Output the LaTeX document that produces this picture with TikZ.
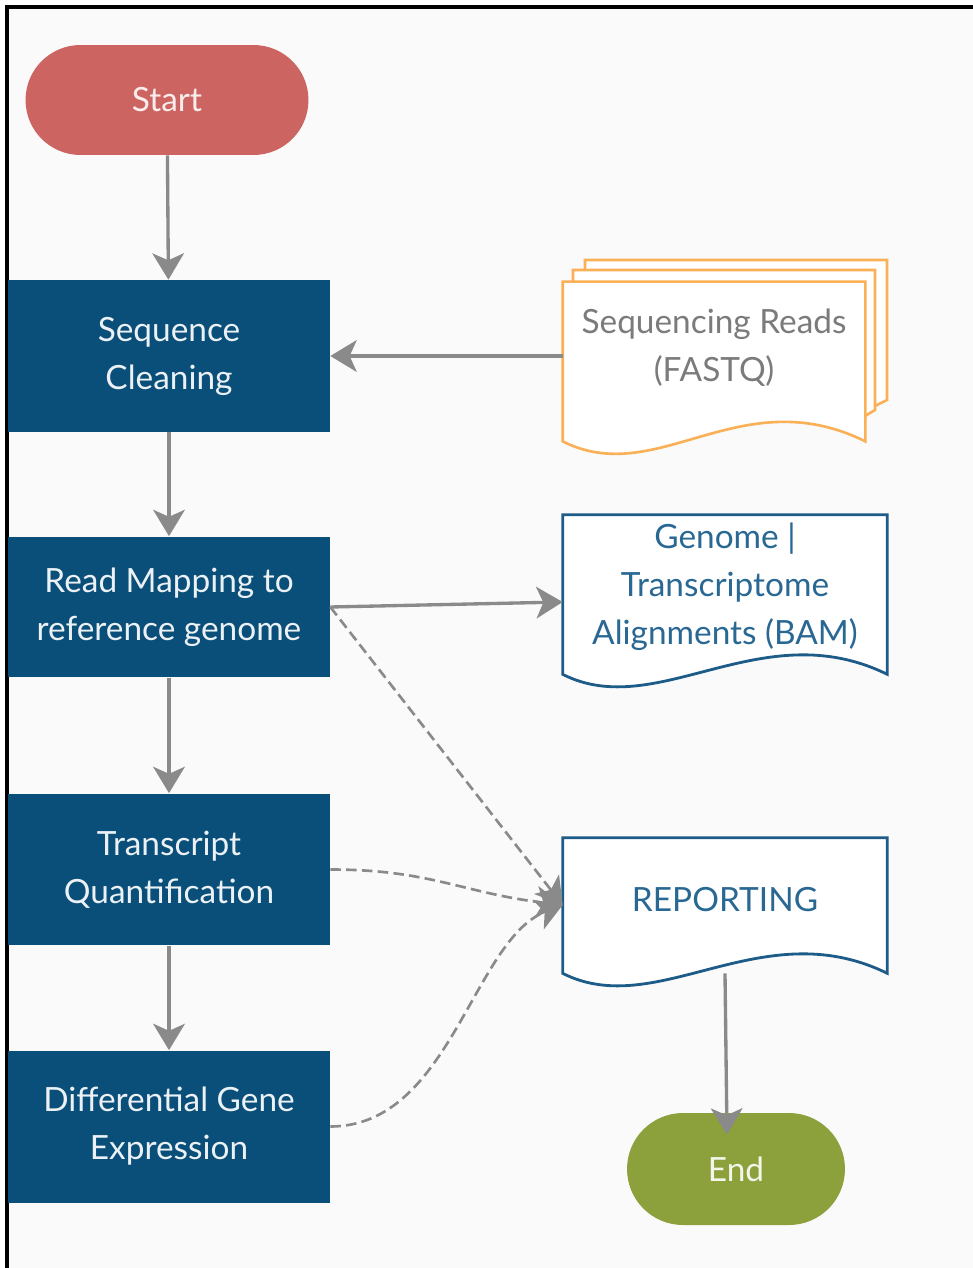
\documentclass[tikz,border=0pt]{standalone}
\usepackage{fontspec}
\setmainfont{Lato}
\usepackage{tikz}
\usetikzlibrary{positioning,arrows.meta,backgrounds}
\usepackage{xcolor}

\definecolor{startred}{HTML}{CC6561}
\definecolor{endgreen}{HTML}{8CA03C}
\definecolor{procblue}{HTML}{0A4F79}
\definecolor{docblue}{HTML}{1D5B88}
\definecolor{doctext}{HTML}{2A6894}
\definecolor{docorange}{HTML}{F9B056}
\definecolor{readsgray}{HTML}{7B7B7B}
\definecolor{arrowgray}{HTML}{8A8A8A}
\definecolor{canvas}{HTML}{FAFAFA}

% outline of a document shape: node corners, wavy bottom dropped by #2
\newcommand{\docoutline}[2]{(#1.north west) -- (#1.north east) -- ([yshift=-#2]#1.south east)
  .. controls +(-126,-62) and +(95,48) .. ([yshift=-#2]#1.south west) -- cycle}

\begin{document}
\begin{tikzpicture}[x=0.02cm, y=-0.02cm,
  every node/.style={font=\fontsize{19}{27.3}\selectfont},
  terminal/.style={rectangle, rounded corners=1.1cm, minimum width=5.66cm, minimum height=2.2cm},
  process/.style={rectangle, fill=procblue, text=white!92!procblue, align=center,
    minimum width=6.44cm, minimum height=3.04cm},
  docnode/.style={rectangle, align=center, text=doctext, minimum width=6.48cm},
  flow/.style={draw=arrowgray, line width=1.9pt, -{Stealth[length=15pt,width=18pt,inset=4pt]}},
  link/.style={flow, line width=1.5pt, dash pattern=on 6pt off 3pt}]
\useasboundingbox (0,0) rectangle (973,1268);

\node[terminal, fill=startred, text=white!88!startred] (start) at (167,100) {Start};
\node[process] (seqclean) at (169,356) {Sequence\\Cleaning};
\node[process, minimum height=2.82cm] (readmap) at (169,607) {Read Mapping to\\reference genome};
\node[process] (transq) at (169,869.5) {Transcript\\Quantification};
\node[process] (diffexp) at (169,1126.5) {Differential Gene\\Expression};

\node[docnode, text=readsgray, minimum width=6.04cm, minimum height=2.64cm] (reads) at (714,348) {Sequencing Reads\\(FASTQ)};
\node[docnode, minimum height=2.88cm] (genome) at (725,587) {Genome |\\Transcriptome\\Alignments (BAM)};
\node[docnode, minimum height=2.48cm] (report) at (725,900) {REPORTING};
\node[terminal, fill=endgreen, text=white!90!endgreen, minimum width=4.36cm, minimum height=2.24cm,
  rounded corners=1.12cm] (finish) at (736,1169) {End};

\draw[flow] (start) -- (seqclean);
\draw[flow] (seqclean) -- (readmap);
\draw[flow] (readmap) -- (transq);
\draw[flow] (transq) -- (diffexp);
\draw[flow] (seqclean.east -| reads.west) -- (seqclean.east);
\draw[flow] (readmap.east) -- ([yshift=0.1cm]readmap.east -| genome.west);
\draw[link] (readmap.east) -- ([yshift=-0.1cm]report.west);
\draw[link] (transq.east) .. controls +(100,0) and +(-100,-12) .. ([yshift=-0.1cm]report.west);
\draw[link] (diffexp.east) .. controls +(120,0) and +(-90,35) .. ([yshift=-0.1cm]report.west);
\draw[flow] ([yshift=-0.22cm]report.south) -- ([xshift=-0.18cm,yshift=-0.44cm]finish.north);

\begin{scope}[on background layer]
\fill[white] (0,0) rectangle (973,1268);
\fill[canvas] (7,7) rectangle (973,1268);
\draw[black, line width=2.2pt] (7,1268) -- (7,7) -- (973,7);
\draw[docorange, line width=1.5pt, fill=white] (585,282) -- (585,260) -- (887,260) -- (887,400) -- (875,406);
\draw[docorange, line width=1.5pt, fill=white] (573,282) -- (573,270) -- (875,270) -- (875,410) -- (865,416);
\draw[docorange, line width=1.5pt, fill=white] \docoutline{reads}{0.54cm};
\draw[docblue, line width=1.6pt, fill=white] \docoutline{genome}{0.3cm};
\draw[docblue, line width=1.6pt, fill=white] \docoutline{report}{0.22cm};
\end{scope}
\end{tikzpicture}
\end{document}
